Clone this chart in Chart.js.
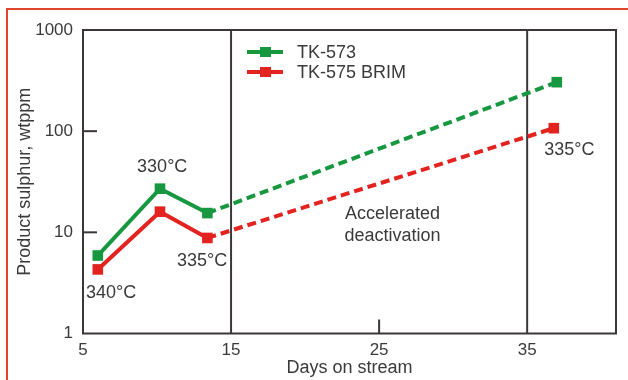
<!DOCTYPE html>
<html>
<head>
<meta charset="utf-8">
<script src="https://cdn.jsdelivr.net/npm/chart.js@4.4.0/dist/chart.umd.min.js"></script>
<style>
  html, body { margin: 0; padding: 0; background: #fff; }
  #wrap { position: relative; width: 628px; height: 380px; overflow: hidden; }
  #frame {
    position: absolute; left: 6px; top: 8px; right: -4px; bottom: -4px;
    border-left: 2px solid #e2452f; border-top: 2px solid #e2452f;
    pointer-events: none;
  }
</style>
</head>
<body>
<div id="wrap">
  <canvas id="chart" width="628" height="380"></canvas>
  <div id="frame"></div>
</div>
<script>
  // ---- data ----
  const days573 = [6, 10.2, 13.4, 37];
  const sulphur573 = [5.9, 27, 15.5, 305];
  const days575 = [6, 10.2, 13.4, 36.8];
  const sulphur575 = [4.3, 16, 8.8, 107];
  const seriesNames = ["TK-573", "TK-575 BRIM"];
  const seriesColors = ["#17973f", "#e2231f"];

  const xTicks = [5, 15, 25, 35];
  const yTicks = [1, 10, 100, 1000];
  const xRefLines = [15, 35];

  // text notes, anchored in data units (days, wtppm)
  const noteTexts = ["330°C", "335°C", "340°C", "335°C", "Accelerated", "deactivation"];
  const noteDays = [10.35, 13.05, 6.9, 37.85, 25.9, 25.9];
  const noteValues = [44, 5.2, 2.5, 65, 15.2, 9.2];

  const FONT = '"Liberation Sans", Arial, Helvetica, sans-serif';
  const TEXT = "#3a3a3a";
  const AXIS = "#3b3738";

  const toXY = (xs, ys) => xs.map((x, i) => ({ x, y: ys[i] }));

  // dashed after the third point ("accelerated deactivation" leg)
  const dashAfter = (ctx) => (ctx.p0DataIndex >= 2 ? [9, 5] : undefined);

  const makeSet = (label, color, data) => ({
    label,
    data,
    borderColor: color,
    backgroundColor: color,
    borderWidth: 4,
    pointStyle: "rect",
    pointRadius: 7.5,
    pointBorderWidth: 0,
    tension: 0,
    clip: false,
    segment: { borderDash: dashAfter }
  });

  const line = (ctx, x1, y1, x2, y2) => {
    ctx.beginPath();
    ctx.moveTo(x1, y1);
    ctx.lineTo(x2, y2);
    ctx.stroke();
  };

  const framePlugin = {
    id: "frame",
    beforeDatasetsDraw(chart) {
      const { ctx, chartArea: a, scales: { x, y } } = chart;
      ctx.save();
      ctx.strokeStyle = AXIS;
      ctx.lineWidth = 2;
      ctx.strokeRect(a.left, a.top, a.right - a.left, a.bottom - a.top);
      xRefLines.forEach((v) => {
        const px = x.getPixelForValue(v);
        line(ctx, px, a.top, px, a.bottom);
      });
      // short inward ticks
      yTicks.filter((v) => v > y.min && v < y.max).forEach((v) => {
        const py = y.getPixelForValue(v);
        line(ctx, a.left, py, a.left + 14, py);
      });
      xTicks.filter((v) => v > x.min && !xRefLines.includes(v)).forEach((v) => {
        const px = x.getPixelForValue(v);
        line(ctx, px, a.bottom, px, a.bottom - 14);
      });
      ctx.restore();
    },
    afterDatasetsDraw(chart) {
      const { ctx, scales: { x, y } } = chart;
      ctx.save();
      ctx.font = `18px ${FONT}`;
      ctx.fillStyle = TEXT;
      ctx.textAlign = "center";
      ctx.textBaseline = "middle";
      noteTexts.forEach((t, i) => {
        ctx.fillText(t, x.getPixelForValue(noteDays[i]), y.getPixelForValue(noteValues[i]));
      });

      // legend: line with square marker
      chart.data.datasets.forEach((ds, i) => {
        const ly = 52 + i * 20;
        ctx.strokeStyle = ds.borderColor;
        ctx.fillStyle = ds.borderColor;
        ctx.lineWidth = 4;
        line(ctx, 247, ly, 283, ly);
        ctx.fillRect(260, ly - 5, 11, 10);
        ctx.fillStyle = TEXT;
        ctx.textAlign = "left";
        ctx.fillText(ds.label, 297, ly + 1);
      });
      ctx.restore();
    }
  };

  new Chart(document.getElementById("chart"), {
    type: "line",
    data: {
      datasets: [
        makeSet(seriesNames[0], seriesColors[0], toXY(days573, sulphur573)),
        makeSet(seriesNames[1], seriesColors[1], toXY(days575, sulphur575))
      ]
    },
    options: {
      responsive: false,
      animation: false,
      events: [],
      layout: { padding: { left: 0, top: 30, right: 12, bottom: 0 } },
      plugins: { legend: { display: false }, tooltip: { enabled: false } },
      scales: {
        x: {
          type: "linear",
          min: 5,
          max: 41,
          afterBuildTicks: (s) => { s.ticks = xTicks.map((value) => ({ value })); },
          afterFit: (s) => { s.height = 46.5; },
          grid: { display: false, drawTicks: false },
          border: { display: false },
          ticks: {
            padding: 7,
            color: TEXT,
            font: { family: FONT, size: 17 },
            maxRotation: 0
          },
          title: {
            display: true,
            text: "Days on stream",
            color: TEXT,
            font: { family: FONT, size: 18 },
            padding: { top: 0, bottom: 1 }
          }
        },
        y: {
          type: "logarithmic",
          min: 1,
          max: 1000,
          afterBuildTicks: (s) => { s.ticks = yTicks.map((value) => ({ value })); },
          afterFit: (s) => { s.width = 83; },
          grid: { display: false, drawTicks: false },
          border: { display: false },
          ticks: {
            padding: 10,
            color: TEXT,
            font: { family: FONT, size: 17 },
            callback: (v) => String(v)
          },
          title: {
            display: true,
            text: "Product sulphur, wtppm",
            color: TEXT,
            font: { family: FONT, size: 18 },
            padding: { top: 14, bottom: 0 }
          }
        }
      }
    },
    plugins: [framePlugin]
  });
</script>
</body>
</html>
